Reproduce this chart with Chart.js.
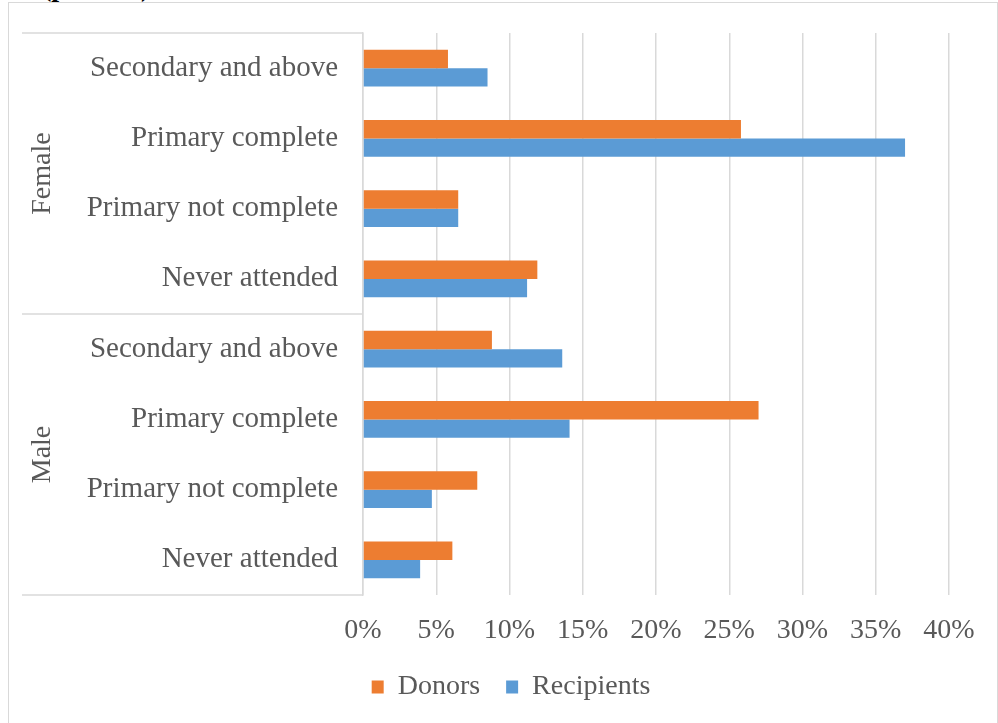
<!DOCTYPE html>
<html lang="en">

<head>
    <meta charset="UTF-8" />
    <title>Education level of donors and recipients</title>
    <script src="https://cdn.jsdelivr.net/npm/chart.js"></script>
    <style>
        body {
            margin: 0;
            background: #ffffff;
        }

        .pagina {
            position: relative;
            width: 998px;
            height: 723px;
            overflow: hidden;
        }

        .moldura {
            position: absolute;
            left: 8px;
            top: 2px;
            width: 988px;
            height: 720px;
            border: 1px solid #d9d9d9;
        }

        .titulo {
            position: absolute;
            left: 42px;
            top: -27px;
            font-family: "Liberation Serif", serif;
            font-weight: bold;
            font-size: 28px;
            line-height: 28px;
            color: #000000;
        }

        canvas {
            position: absolute;
            left: 0;
            top: 0;
        }
    </style>
</head>

<body>
    <div class="pagina">
        <div class="moldura"></div>
        <div class="titulo">(percent)</div>
        <canvas id="grafico" width="998" height="723"></canvas>
    </div>
</body>

</html>
<script>
    // dados
    var grupos = ["Female", "Male"];
    var niveis = ["Secondary and above", "Primary complete", "Primary not complete", "Never attended"];
    var doadores = [5.8, 25.8, 6.5, 11.9, 8.8, 27.0, 7.8, 6.1];
    var receptores = [8.5, 37.0, 6.5, 11.2, 13.6, 14.1, 4.7, 3.9];
    var ticksX = [0, 5, 10, 15, 20, 25, 30, 35, 40];

    var corTexto = "#595959";
    var corGrade = "#d9d9d9";
    var fonte = "'Liberation Serif', 'Times New Roman', serif";

    // uma etiqueta por barra: nível dentro de cada grupo
    var etiquetas = [];
    for (var g = 0; g < grupos.length; g++) {
        for (var n = 0; n < niveis.length; n++) {
            etiquetas.push(niveis[n]);
        }
    }

    // linhas separadoras e nomes dos grupos à esquerda
    const gruposPlugin = {
        id: "grupos",
        afterDraw(chart) {
            const ctx = chart.ctx;
            const y = chart.scales.y;
            const area = chart.chartArea;
            const xIni = 22;
            ctx.save();
            ctx.strokeStyle = corGrade;
            ctx.lineWidth = 1.5;
            var limites = [area.top];
            for (var g = 1; g <= grupos.length; g++) {
                var k = g * niveis.length;
                limites.push(g === grupos.length ? area.bottom : y.getPixelForValue(k - 0.5));
            }
            limites.forEach(function (py) {
                ctx.beginPath();
                ctx.moveTo(xIni, py);
                ctx.lineTo(area.left, py);
                ctx.stroke();
            });
            ctx.fillStyle = corTexto;
            ctx.font = "28px " + fonte;
            ctx.textAlign = "center";
            ctx.textBaseline = "middle";
            for (var g = 0; g < grupos.length; g++) {
                var meio = (limites[g] + limites[g + 1]) / 2;
                ctx.save();
                ctx.translate(43, meio);
                ctx.rotate(-Math.PI / 2);
                ctx.fillText(grupos[g], 0, 0);
                ctx.restore();
            }
            ctx.restore();
        }
    };

    const ctx = document.getElementById("grafico");
    new Chart(ctx, {
        type: "bar",
        data: {
            labels: etiquetas,
            datasets: [
                {
                    label: "Donors",
                    data: doadores,
                    backgroundColor: "#ED7D31",
                    barPercentage: 1,
                    categoryPercentage: 0.52,
                },
                {
                    label: "Recipients",
                    data: receptores,
                    backgroundColor: "#5B9BD5",
                    barPercentage: 1,
                    categoryPercentage: 0.52,
                },
            ],
        },
        options: {
            indexAxis: "y",
            responsive: false,
            animation: false,
            layout: {
                padding: { top: 33, left: 73, right: 49, bottom: 12 },
            },
            plugins: {
                legend: {
                    position: "bottom",
                    labels: {
                        color: corTexto,
                        font: { family: fonte, size: 28 },
                        boxWidth: 12,
                        boxHeight: 13,
                        padding: 26,
                    },
                },
                tooltip: { enabled: false },
            },
            scales: {
                x: {
                    min: 0,
                    max: 40,
                    afterBuildTicks: function (scale) {
                        scale.ticks = ticksX.map(function (v) { return { value: v }; });
                    },
                    afterFit: function (scale) {
                        scale.height = 52;
                    },
                    ticks: {
                        color: corTexto,
                        font: { family: fonte, size: 28 },
                        padding: 19,
                        maxRotation: 0,
                        callback: function (v) { return v + "%"; },
                    },
                    grid: {
                        color: corGrade,
                        lineWidth: 1.5,
                        drawTicks: false,
                    },
                    border: { display: false },
                },
                y: {
                    afterFit: function (scale) {
                        scale.width = 290;
                        // o padding dos rótulos não deve empurrar a área do gráfico
                        scale.paddingTop = 17;
                        scale.paddingBottom = 17;
                    },
                    ticks: {
                        color: corTexto,
                        font: { family: fonte, size: 29 },
                        padding: 25,
                        autoSkip: false,
                    },
                    grid: { display: false, drawTicks: false },
                    border: { display: true, color: corGrade, width: 1.5 },
                },
            },
        },
        plugins: [gruposPlugin],
    });
</script>
